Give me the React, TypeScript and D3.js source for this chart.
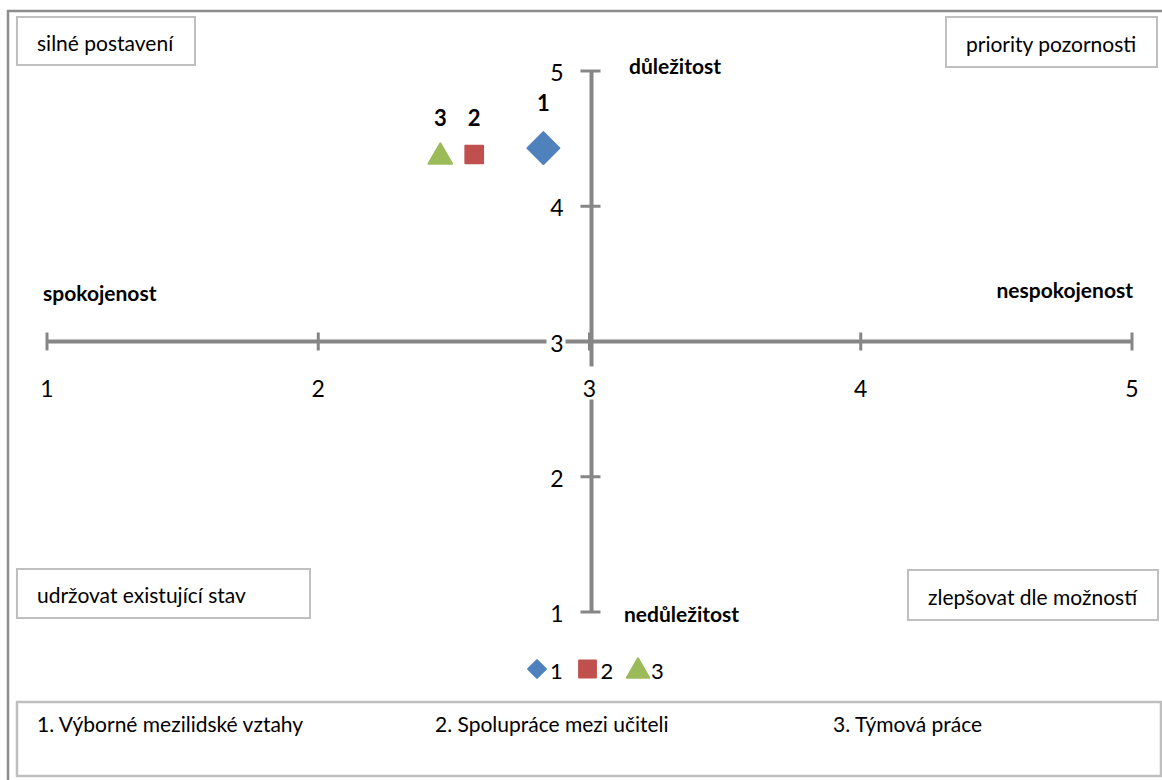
import React from "react";
import * as d3 from "d3";

// Importance / satisfaction matrix values (x = spokojenost, y = důležitost)
const itemIds = ["1", "2", "3"];
const itemNames = ["1. Výborné mezilidské vztahy", "2. Spolupráce mezi učiteli", "3. Týmová práce"];
const satisfaction = [2.83, 2.575, 2.45];
const importance = [4.43, 4.39, 4.39];
const xTicks = [1, 2, 3, 4, 5];
const yTicks = [1, 2, 3, 4, 5];
const colors = ["#4F81BD", "#C0504D", "#9BBB59"];
const markerShapes = ["diamond", "square", "triangle"];
const quadrantLabels = ["silné postavení", "priority pozornosti", "udržovat existující stav", "zlepšovat dle možností"];

const W = 1162;
const H = 780;
const FONT = "Lato, 'Open Sans', sans-serif";
const AXIS = "#868686";

function Marker({ shape, cx, cy, size, color }: { shape: string; cx: number; cy: number; size: number; color: string }) {
  const sym =
    shape === "diamond" ? d3.symbolDiamond2 : shape === "square" ? d3.symbolSquare2 : d3.symbolTriangle2;
  const path = d3.symbol(sym, size)() as string;
  // the triangle symbol is centred on its centroid; nudge it to sit level with the square
  const dy = shape === "triangle" ? Math.sqrt(size) * 0.12 : 0;
  return (
    <path
      d={path}
      transform={`translate(${cx},${cy + dy})`}
      fill={color}
      stroke={color}
      strokeWidth={2}
      strokeLinejoin="round"
    />
  );
}

function BoxLabel({ x, y, w, h, text }: { x: number; y: number; w: number; h: number; text: string }) {
  return (
    <g>
      <rect x={x} y={y} width={w} height={h} fill="#fff" stroke="#bfbfbf" strokeWidth={2} />
      <text x={x + 20} y={y + h / 2 + 1} dominantBaseline="central" fontSize={21} fontFamily={FONT} fill="#000">
        {text}
      </text>
    </g>
  );
}

export default function App() {
  const x = d3.scaleLinear().domain([1, 5]).range([47, 1132]);
  const y = d3.scaleLinear().domain([1, 5]).range([612, 71]);
  const x0 = x(3);
  const y0 = y(3);

  return (
    <svg width={W} height={H} style={{ position: "absolute", left: 0, top: 0, background: "#fff" }}>
      {/* outer chart frame */}
      <rect x={8} y={11} width={W} height={H} fill="#fff" stroke="#8c8c8c" strokeWidth={2.5} />

      {/* quadrant boxes */}
      <BoxLabel x={17} y={17} w={178} h={48} text={quadrantLabels[0]} />
      <BoxLabel x={946} y={17} w={211} h={50} text={quadrantLabels[1]} />
      <BoxLabel x={17} y={569} w={293} h={49} text={quadrantLabels[2]} />
      <BoxLabel x={908} y={570} w={250} h={50} text={quadrantLabels[3]} />

      {/* horizontal axis */}
      <line x1={x(1)} x2={x(5)} y1={y0} y2={y0} stroke={AXIS} strokeWidth={4} />
      {xTicks.map((t) => (
        <line key={"xt" + t} x1={x(t)} x2={x(t)} y1={y0 - 9} y2={y0 + 9} stroke={AXIS} strokeWidth={3} />
      ))}
      {/* vertical axis */}
      <line x1={x0 + 2} x2={x0 + 2} y1={y(5)} y2={y(1)} stroke={AXIS} strokeWidth={4} />
      {yTicks.map((t) => (
        <line key={"yt" + t} x1={x0 - 9} x2={x0 + 11} y1={y(t)} y2={y(t)} stroke={AXIS} strokeWidth={3} />
      ))}

      {/* tick labels */}
      {xTicks.map((t) => (
        <g key={"xl" + t}>
          {t === 3 && <rect x={x(t) - 10} y={y0 + 25} width={20} height={33} fill="#fff" />}
          <text x={x(t)} y={y0 + 46} textAnchor="middle" dominantBaseline="central" fontSize={23} fontFamily={FONT}>
            {t}
          </text>
        </g>
      ))}
      {yTicks.map((t) => (
        <g key={"yl" + t}>
          {t === 3 && <rect x={x0 - 43} y={y(t) - 14} width={19} height={28} fill="#fff" />}
          <text x={x0 - 26} y={y(t) + 1} textAnchor="end" dominantBaseline="central" fontSize={23} fontFamily={FONT}>
            {t}
          </text>
        </g>
      ))}

      {/* axis end titles */}
      <g fontFamily={FONT} fontWeight="bold" fontSize={21} fill="#000">
        <text x={629} y={y(5) - 6} dominantBaseline="central">důležitost</text>
        <text x={624} y={y(1) + 1} dominantBaseline="central">nedůležitost</text>
        <text x={43} y={292} dominantBaseline="central">spokojenost</text>
        <text x={1133} y={289} textAnchor="end" dominantBaseline="central">nespokojenost</text>
      </g>

      {/* data points with labels */}
      {itemIds.map((id, i) => {
        const cx = x(satisfaction[i]);
        const cy = y(importance[i]);
        const big = i === 0;
        return (
          <g key={"pt" + id}>
            <Marker shape={markerShapes[i]} cx={cx} cy={big ? cy : cy + 1} size={big ? 650 : 400} color={colors[i]} />
            <text
              x={cx}
              y={big ? cy - 46 : cy - 36}
              textAnchor="middle"
              dominantBaseline="central"
              fontSize={22}
              fontWeight="bold"
              fontFamily={FONT}
            >
              {id}
            </text>
          </g>
        );
      })}

      {/* legend */}
      {itemIds.map((id, i) => {
        const lx = 537 + i * 50.5;
        return (
          <g key={"lg" + id}>
            <Marker shape={markerShapes[i]} cx={lx} cy={669} size={i === 0 ? 200 : 360} color={colors[i]} />
            <text x={lx + 13} y={670} dominantBaseline="central" fontSize={22} fontFamily={FONT}>
              {id}
            </text>
          </g>
        );
      })}

      {/* item names box */}
      <rect x={17} y={702} width={1144} height={74} fill="#fff" stroke="#bfbfbf" strokeWidth={2.5} />
      {itemNames.map((name, i) => (
        <text key={"nm" + i} x={37 + i * 398} y={723} dominantBaseline="central" fontSize={21} fontFamily={FONT}>
          {name}
        </text>
      ))}
    </svg>
  );
}
